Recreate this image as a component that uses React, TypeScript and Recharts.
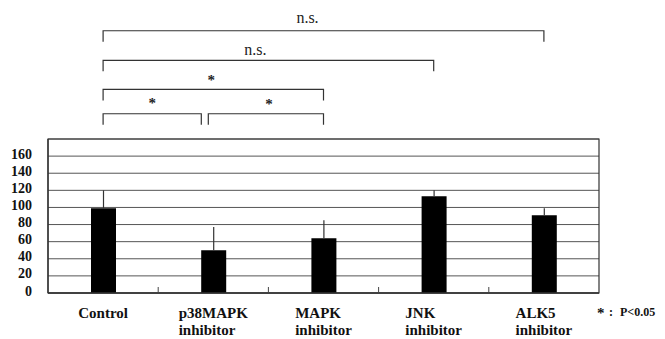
import React from 'react';
import {
  BarChart,
  Bar,
  XAxis,
  YAxis,
  CartesianGrid,
  ErrorBar,
  ReferenceLine,
  ReferenceArea,
  Customized,
} from 'recharts';

// ---------------- data ----------------
const categories = ['Control', 'p38MAPK inhibitor', 'MAPK inhibitor', 'JNK inhibitor', 'ALK5 inhibitor'];
const means = [99, 50, 64, 113, 91];
const errUpper = [21, 27, 21, 7, 8];
const yTicks = [0, 20, 40, 60, 80, 100, 120, 140, 160, 180];
const yTickLabels = ['0', '20', '40', '60', '80', '100', '120', '140', '160', ''];

// significance brackets (levels in value units of the y axis)
const bracketFrom = ['Control', 'Control', 'Control', 'Control', 'p38MAPK inhibitor'];
const bracketTo = ['ALK5 inhibitor', 'JNK inhibitor', 'MAPK inhibitor', 'p38MAPK inhibitor', 'MAPK inhibitor'];
const bracketLabels = ['n.s.', 'n.s.', '*', '*', '*'];
const bracketLevels = [306.5, 272, 238, 209.5, 209.5];

const noteStar = '*';
const noteColon = ':';
const noteText = 'P<0.05';

// ---------------- layout / style ----------------
const FONT = '"Liberation Serif", "Times New Roman", serif';
const W = 665;
const H = 339;
const BRACKET_STYLE = [
  { labelDx: -16, labelGap: 8, inset: [0, 0] },
  { labelDx: -13, labelGap: 5, inset: [0, 0] },
  { labelDx: -2, labelGap: 4, inset: [0, 0] },
  { labelDx: 0, labelGap: 5.5, inset: [0, -12] },
  { labelDx: 3, labelGap: 5, inset: [-5, 0] },
];

const data = categories.map((name, i) => ({
  name,
  value: means[i],
  err: [0, errUpper[i]],
}));

let measureCtx: CanvasRenderingContext2D | null = null;
const measure = (s: string, font: string) => {
  try {
    if (!measureCtx) measureCtx = document.createElement('canvas').getContext('2d');
    if (measureCtx) {
      measureCtx.font = font;
      return measureCtx.measureText(s).width;
    }
  } catch (e) {
    /* ignore */
  }
  return s.length * 8;
};

const XTick = (props: any) => {
  const { x, y, payload, index, width, visibleTicksCount } = props;
  const n = visibleTicksCount || categories.length;
  const band = width ? width / n : (payload && payload.offset ? payload.offset * 2 : 110);
  const lines = String(payload.value).split(' ');
  const font = `bold 15px "Liberation Serif"`;
  const blockW = Math.max(...lines.map((l) => measure(l, font)));
  const single = lines.length === 1;
  return (
    <g>
      {index > 0 && (
        <line x1={x - band / 2} x2={x - band / 2} y1={y - 6} y2={y} stroke="#444" strokeWidth={1} />
      )}
      {lines.map((l, i) => (
        <text
          key={i}
          x={single ? x : x - blockW / 2}
          y={y + 24.5 + i * 17.5}
          textAnchor={single ? 'middle' : 'start'}
          fontFamily={FONT}
          fontWeight="bold"
          fontSize={15}
          fill="#111"
        >
          {l}
        </text>
      ))}
    </g>
  );
};

const YTick = (props: any) => {
  const { x, y, index } = props;
  return (
    <text x={x} y={y + 2.5} textAnchor="end" fontFamily={FONT} fontWeight="bold" fontSize={14} fill="#111">
      {yTickLabels[index]}
    </text>
  );
};

const makeBracketShape = (i: number) => (props: any) => {
  const { x1, y1, x2 } = props;
  const s = BRACKET_STYLE[i];
  const a = x1 + s.inset[0];
  const b = x2 + s.inset[1];
  const drop = 11;
  const isStar = bracketLabels[i] === '*';
  return (
    <g>
      <path
        d={`M${a},${y1 + drop}V${y1}H${b}V${y1 + drop}`}
        fill="none"
        stroke="#333"
        strokeWidth={1.2}
      />
      <text
        x={(a + b) / 2 + s.labelDx}
        y={y1 - s.labelGap}
        textAnchor="middle"
        fontFamily={FONT}
        fontSize={isStar ? 15 : 16}
        fontWeight={isStar ? 'bold' : 'normal'}
        fill="#222"
      >
        {bracketLabels[i]}
      </text>
    </g>
  );
};

const Note = () => (
  <g fontFamily={FONT} fontWeight="bold" fill="#111">
    <text x={597} y={318} fontSize={15}>{noteStar}</text>
    <text x={609} y={316} fontSize={12}>{noteColon}</text>
    <text x={620} y={316} fontSize={12}>{noteText}</text>
  </g>
);

export default function App() {
  return (
    <div style={{ position: 'absolute', left: 0, top: 0, width: W, height: H, background: '#fff' }}>
      <BarChart
        width={W}
        height={H}
        data={data}
        margin={{ top: 139, right: 66, bottom: 0, left: 0 }}
        barSize={25}
      >
        <CartesianGrid vertical={false} stroke="#555" strokeWidth={1} />
        <XAxis
          dataKey="name"
          type="category"
          interval={0}
          height={46}
          tickSize={0}
          tickMargin={0}
          tickLine={false}
          axisLine={{ stroke: '#333', strokeWidth: 1.3 }}
          tick={<XTick />}
        />
        <YAxis
          type="number"
          domain={[0, 180]}
          ticks={yTicks}
          interval={0}
          width={48}
          tickSize={0}
          tickMargin={16}
          tickLine={false}
          axisLine={{ stroke: '#333', strokeWidth: 1.3 }}
          tick={<YTick />}
        />
        <ReferenceArea y1={0} y2={180} fill="none" stroke="#333" strokeWidth={1.2} ifOverflow="visible" />
        <Bar dataKey="value" fill="#000" isAnimationActive={false}>
          <ErrorBar dataKey="err" width={0} stroke="#333" strokeWidth={1.2} isAnimationActive={false} />
        </Bar>
        {bracketFrom.map((from, i) => (
          <ReferenceLine
            key={i}
            segment={[
              { x: from, y: bracketLevels[i] },
              { x: bracketTo[i], y: bracketLevels[i] },
            ]}
            ifOverflow="visible"
            shape={makeBracketShape(i)}
          />
        ))}
        <Customized component={Note} />
      </BarChart>
    </div>
  );
}
